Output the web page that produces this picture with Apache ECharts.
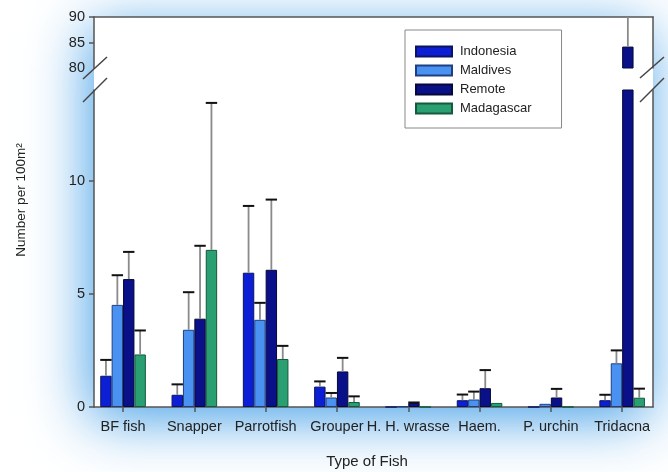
<!DOCTYPE html>
<html>
<head>
<meta charset="utf-8">
<script src="https://cdn.jsdelivr.net/npm/echarts@6/dist/echarts.min.js"></script>
<style>
html,body{margin:0;padding:0;background:#fff;}
#chart{width:668px;height:472px;}
</style>
</head>
<body>
<div id="chart"></div>
<script>
const categories = ['BF fish', 'Snapper', 'Parrotfish', 'Grouper', 'H. H. wrasse', 'Haem.', 'P. urchin', 'Tridacna'];
const seriesNames = ['Indonesia', 'Maldives', 'Remote', 'Madagascar'];
const indonesia     = [1.38, 0.54, 5.93, 0.90, 0,    0.30, 0,    0.30];
const indonesiaErr  = [0.70, 0.46, 2.95, 0.23, 0,    0.25, 0,    0.24];
const maldives      = [4.51, 3.41, 3.85, 0.42, 0.03, 0.33, 0.14, 1.93];
const maldivesErr   = [1.31, 1.66, 0.75, 0.20, 0,    0.35, 0,    0.57];
const remote        = [5.65, 3.90, 6.06, 1.57, 0.18, 0.83, 0.42, 84.2];
const remoteErr     = [1.20, 3.22, 3.10, 0.60, 0.02, 0.80, 0.38, 8.0];
const madagascar    = [2.32, 6.94, 2.12, 0.22, 0,    0.18, 0,    0.41];
const madagascarErr = [1.06, 6.49, 0.58, 0.25, 0,    0,    0,    0.40];
const lowerTicks = [0, 5, 10];
const upperTickLabels = [80, 85, 90];
const upperTicks = [85, 90];

const values = [indonesia, maldives, remote, madagascar];
const errors = [indonesiaErr, maldivesErr, remoteErr, madagascarErr];
const colors = ['#0d1fd4', '#4a92f2', '#0a1088', '#2a9f72'];
const borders = ['#0a1460', '#1e3f80', '#050838', '#145a3c'];

const BAR_W = 11.4;
const LOW_MIN = 0, LOW_MAX = 14, UP_MIN = 80, UP_MAX = 90;
const FONT = 'Liberation Sans, Arial, sans-serif';

const chart = echarts.init(document.getElementById('chart'), null, {renderer: 'canvas'});

function barSeries(si, gridPart) {
  const isUpper = gridPart === 0;
  return {
    name: seriesNames[si],
    type: 'bar',
    xAxisIndex: isUpper ? 0 : 1,
    yAxisIndex: isUpper ? 0 : 1,
    barWidth: BAR_W,
    barGap: '0%',
    clip: true,
    data: values[si].map(v => isUpper ? (v >= UP_MIN ? v : '-') : v),
    itemStyle: {color: colors[si], borderColor: borders[si], borderWidth: 1, borderRadius: 0},
    emphasis: {disabled: true},
    z: 2
  };
}

function errSeries(si, gridPart) {
  const isUpper = gridPart === 0;
  const yMin = isUpper ? UP_MIN : LOW_MIN;
  const yMax = isUpper ? UP_MAX : LOW_MAX;
  return {
    type: 'custom',
    xAxisIndex: isUpper ? 0 : 1,
    yAxisIndex: isUpper ? 0 : 1,
    data: values[si].map((v, i) => [i, v, errors[si][i]]),
    z: 3,
    silent: true,
    renderItem: function (params, api) {
      const i = api.value(0), v = api.value(1), e = api.value(2);
      if (!(e > 0)) return null;
      if (v > yMax || v < yMin) return null;
      const topVal = v + e;
      const base = api.coord([i, v]);
      const top = api.coord([i, Math.min(topVal, yMax)]);
      const x = base[0] + (si - 1.5) * BAR_W;
      const children = [{
        type: 'line',
        shape: {x1: x, y1: base[1], x2: x, y2: top[1]},
        style: {stroke: '#8a8a8a', lineWidth: 1.8}
      }];
      if (topVal <= yMax) {
        children.push({
          type: 'line',
          shape: {x1: x - BAR_W / 2, y1: top[1], x2: x + BAR_W / 2, y2: top[1]},
          style: {stroke: '#111', lineWidth: 2}
        });
      }
      return {type: 'group', children: children};
    }
  };
}

const series = [];
for (let s = 0; s < 4; s++) { series.push(barSeries(s, 1)); }
for (let s = 0; s < 4; s++) { series.push(barSeries(s, 0)); }
for (let s = 0; s < 4; s++) { series.push(errSeries(s, 1)); series.push(errSeries(s, 0)); }

const axisLineStyle = {color: '#555', width: 1.5};

const option = {
  animation: false,
  backgroundColor: '#fff',
  textStyle: {fontFamily: FONT},
  legend: {
    data: seriesNames.map(n => ({name: n, icon: 'rect'})),
    orient: 'vertical',
    left: 405,
    top: 30,
    padding: [15, 30, 13, 10],
    itemGap: 6,
    itemWidth: 36,
    itemHeight: 10,
    borderColor: '#888',
    borderWidth: 1,
    backgroundColor: '#fff',
    textStyle: {fontSize: 13, color: '#222', fontFamily: FONT, padding: [0, 0, 0, 3]},
    selectedMode: false
  },
  grid: [
    {left: 87.4, right: 10.2, top: 17, height: 51},
    {left: 87.4, right: 10.2, top: 90, bottom: 65},
    {left: 94, right: 15, top: 17, bottom: 65}
  ],
  xAxis: [
    {type: 'category', gridIndex: 0, data: categories, show: false},
    {type: 'category', gridIndex: 1, data: categories,
      axisLine: {show: false},
      axisTick: {show: true, alignWithLabel: true, length: 5, lineStyle: {color: '#555', width: 1.5}},
      axisLabel: {interval: 0, margin: 12, fontSize: 14.5, color: '#222', fontFamily: FONT}
    },
    {type: 'value', gridIndex: 2, position: 'bottom', min: 0, max: 1,
      axisLine: {show: true, lineStyle: axisLineStyle}, axisTick: {show: false}, axisLabel: {show: false}, splitLine: {show: false}},
    {type: 'value', gridIndex: 2, position: 'top', min: 0, max: 1,
      axisLine: {show: true, lineStyle: axisLineStyle}, axisTick: {show: false}, axisLabel: {show: false}, splitLine: {show: false}}
  ],
  yAxis: [
    {type: 'value', gridIndex: 0, position: 'left', min: UP_MIN, max: UP_MAX, offset: -6.6,
      axisLine: {show: true, lineStyle: axisLineStyle},
      axisTick: {show: true, length: 5, customValues: upperTicks, lineStyle: {color: '#555', width: 1.5}},
      axisLabel: {customValues: upperTickLabels, fontSize: 14.5, color: '#222', margin: 9, fontFamily: FONT},
      splitLine: {show: false}},
    {type: 'value', gridIndex: 1, position: 'left', min: LOW_MIN, max: LOW_MAX, offset: -6.6,
      axisLine: {show: true, lineStyle: axisLineStyle},
      axisTick: {show: true, length: 5, customValues: lowerTicks, lineStyle: {color: '#555', width: 1.5}},
      axisLabel: {customValues: lowerTicks, fontSize: 14.5, color: '#222', margin: 9, fontFamily: FONT},
      splitLine: {show: false}},
    {type: 'value', gridIndex: 0, position: 'right', min: UP_MIN, max: UP_MAX, offset: -4.8,
      axisLine: {show: true, lineStyle: axisLineStyle}, axisTick: {show: false}, axisLabel: {show: false}, splitLine: {show: false}},
    {type: 'value', gridIndex: 1, position: 'right', min: LOW_MIN, max: LOW_MAX, offset: -4.8,
      axisLine: {show: true, lineStyle: axisLineStyle}, axisTick: {show: false}, axisLabel: {show: false}, splitLine: {show: false}},
    {type: 'value', gridIndex: 2, show: false, min: 0, max: 1}
  ],
  graphic: [
    {type: 'rect', z: -10, silent: true,
      shape: {x: 94, y: 17, width: 559, height: 390},
      style: {fill: '#fff', shadowBlur: 55, shadowColor: 'rgba(60,155,230,0.95)', shadowOffsetY: 12, shadowOffsetX: -5}},
    {type: 'line', z: 100, shape: {x1: 83, y1: 79, x2: 107, y2: 57}, style: {stroke: '#444', lineWidth: 1.5}},
    {type: 'line', z: 100, shape: {x1: 83, y1: 102, x2: 107, y2: 78}, style: {stroke: '#444', lineWidth: 1.5}},
    {type: 'line', z: 100, shape: {x1: 640, y1: 78, x2: 664, y2: 57}, style: {stroke: '#444', lineWidth: 1.5}},
    {type: 'line', z: 100, shape: {x1: 640, y1: 102, x2: 664, y2: 78}, style: {stroke: '#444', lineWidth: 1.5}},
    {type: 'text', z: 100, x: 21, y: 200, rotation: Math.PI / 2,
      style: {text: 'Number per 100m²', fontSize: 13.5, fill: '#222', font: '13.5px ' + FONT, align: 'center', verticalAlign: 'middle'}},
    {type: 'text', z: 100, x: 367, y: 462,
      style: {text: 'Type of Fish', fontSize: 15, fill: '#222', font: '15px ' + FONT, align: 'center', verticalAlign: 'middle'}}
  ],
  series: series
};
chart.setOption(option);
</script>
</body>
</html>
